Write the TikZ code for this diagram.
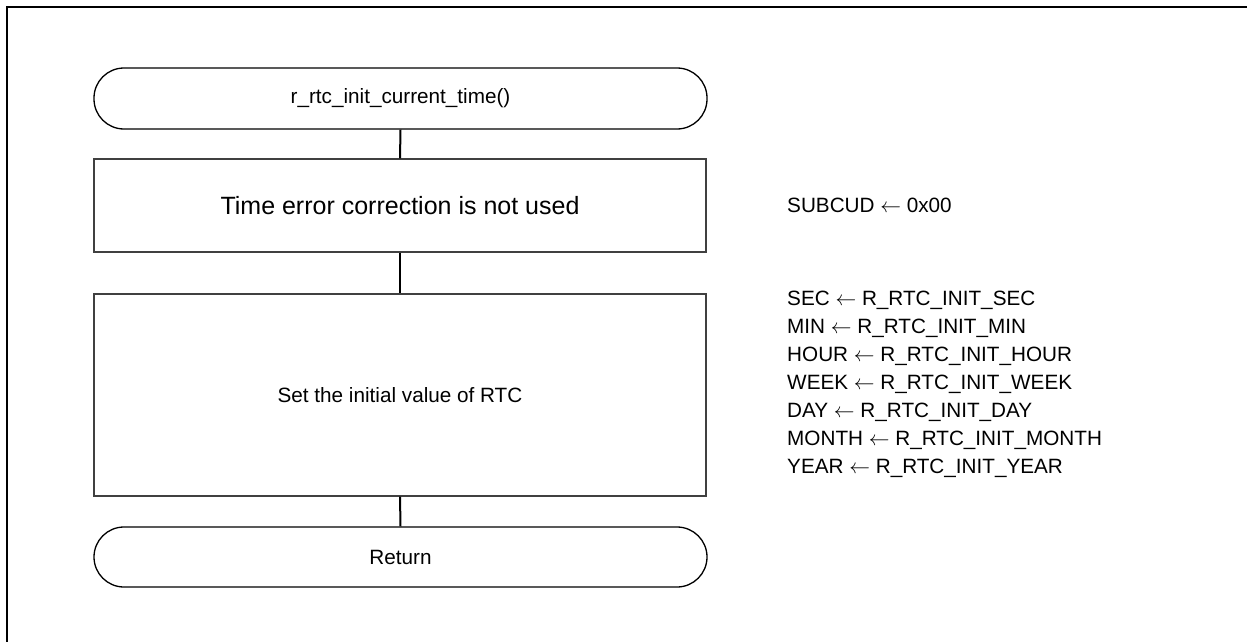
\documentclass[tikz,border=0pt]{standalone}
\usepackage{fontspec}
\setmainfont{Liberation Sans}
\newcommand{\asg}{$\leftarrow$}
\begin{document}
\begin{tikzpicture}[x=1pt,y=-1pt,
  term/.style={draw=black,line width=1.3pt,rounded corners=30pt,minimum width=613pt,minimum height=61pt,inner sep=0pt,font=\fontsize{20.7}{24}\selectfont},
  procbox/.style={draw=black!75,line width=1.2pt,minimum width=612pt,inner sep=0pt},
  conn/.style={draw=black,line width=2pt},
  note/.style={anchor=west,inner sep=0pt,align=left,font=\fontsize{20.7}{28}\selectfont}]
\useasboundingbox (0,0) rectangle (1247,642);
\coordinate (ftr) at (1247,7);
\coordinate (ftl) at (6.5,7);
\coordinate (fbl) at (6.5,642);
\draw[line width=2pt] (ftr) -- (ftl) -- (fbl);
\node[term] (start) at (400.5,98.5) {r\_rtc\_init\_current\_time()};
\node[procbox,minimum height=93pt,font=\fontsize{25}{30}\selectfont] (box1) at (400,205.5) {Time error correction is not used};
\node[procbox,minimum height=202pt,font=\fontsize{20.7}{24}\selectfont] (box2) at (400,395) {Set the initial value of RTC};
\node[term,minimum height=60pt] (ret) at (400.5,557) {Return};
\draw[conn] (start.south) -- (box1.north);
\draw[conn] (box1.south) -- (box2.north);
\draw[conn] (box2.south) -- (ret.north);
\node[note] (n1) at (787,205) {SUBCUD \asg{} 0x00};
\node[note] (n2) at (787,384) {SEC \asg{} R\_RTC\_INIT\_SEC\\MIN \asg{} R\_RTC\_INIT\_MIN\\HOUR \asg{} R\_RTC\_INIT\_HOUR\\WEEK \asg{} R\_RTC\_INIT\_WEEK\\DAY \asg{} R\_RTC\_INIT\_DAY\\MONTH \asg{} R\_RTC\_INIT\_MONTH\\YEAR \asg{} R\_RTC\_INIT\_YEAR};
\end{tikzpicture}
\end{document}
